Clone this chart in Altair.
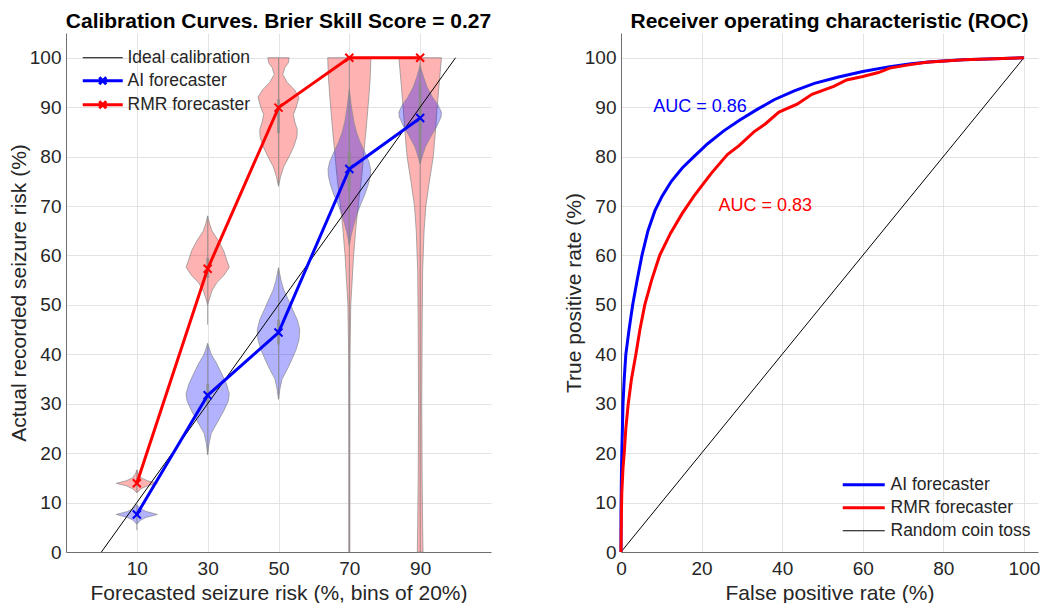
import altair as alt
import pandas as pd

FONT = "Liberation Sans"
BLUE = "#0000ff"
RED = "#ff0000"
TXT = "#262626"

# ---------------- Calibration panel data ----------------
bins = [10, 30, 50, 70, 90]
ai_cal = [7.6, 31.7, 44.4, 77.5, 87.8]
rmr_cal = [13.9, 57.3, 89.9, 100.0, 100.0]
ideal_x = [0, 100]
ideal_y = [0, 100]

# violin outlines: levels (risk %) and half-widths (x units)
ai_v10_y = [5.6, 6.4, 7.0, 7.6, 8.2, 8.8, 9.6]
ai_v10_w = [0, 1.0, 2.6, 5.8, 2.6, 1.0, 0]
ai_v30_y = [19.7, 22, 24, 26.3, 28.5, 30.5, 32, 34, 36, 38.2, 40, 42.2]
ai_v30_w = [0, 0.4, 1.0, 2.8, 4.5, 5.8, 6.1, 5.3, 4.0, 2.5, 1.0, 0]
ai_v50_y = [30.9, 33, 35, 37, 39, 41, 43, 45, 47, 49, 51, 53, 55, 57.5]
ai_v50_w = [0, 0.4, 1.0, 2.5, 3.8, 5.0, 5.8, 6.0, 5.3, 4.0, 2.8, 1.5, 0.7, 0]
ai_v70_y = [62, 64, 66, 68, 70, 72, 74, 76, 77.5, 79, 81, 83, 85, 87, 90, 93.6]
ai_v70_w = [0, 0.5, 1.2, 2.0, 3.0, 4.2, 5.2, 5.9, 6.0, 5.5, 4.3, 3.0, 2.0, 1.3, 0.6, 0]
ai_v90_y = [78.5, 80, 82, 84, 86, 88, 89, 90.5, 92, 94, 96, 98.4]
ai_v90_w = [0, 0.6, 1.5, 3.0, 4.6, 5.9, 6.0, 5.0, 3.5, 2.0, 1.0, 0]

rmr_v10_y = [12.0, 12.8, 13.4, 13.9, 14.4, 15.0, 15.8, 16.6]
rmr_v10_w = [0, 1.2, 3.0, 5.8, 3.0, 1.2, 0.4, 0]
rmr_v30_y = [50, 51.5, 53, 54.5, 56, 57.6, 59, 61, 63, 65, 66.5, 68]
rmr_v30_w = [0, 0.6, 1.3, 2.6, 4.6, 6.1, 5.4, 4.5, 3.0, 1.2, 0.5, 0]
rmr_v50_y = [74, 76, 78, 80, 82, 84, 85.5, 87, 88.5, 90, 92, 93.5, 95, 96.6, 98, 99, 100]
rmr_v50_w = [0, 0.6, 1.5, 3.0, 4.3, 5.2, 5.3, 4.6, 4.2, 5.0, 5.8, 4.5, 2.5, 1.2, 1.8, 2.8, 3.0]
rmr_v70_y = [0, 20, 40, 50, 55, 60, 66, 70, 76, 80, 86, 92, 96, 100]
rmr_v70_w = [0.15, 0.15, 0.2, 0.4, 0.8, 1.2, 1.9, 2.5, 3.5, 4.0, 4.8, 5.5, 5.9, 6.1]
rmr_v90_y = [0, 5, 15, 30, 45, 57, 65, 70, 75, 80, 85, 90, 95, 100]
rmr_v90_w = [0.8, 0.7, 0.55, 0.45, 0.55, 0.7, 1.1, 1.6, 2.6, 3.7, 4.3, 4.8, 5.4, 6.0]

# whiskers and inter-quartile boxes
ai_whisk_lo = [4.4, 19.7, 30.9, 62.0, 78.5]
ai_whisk_hi = [9.6, 42.2, 57.5, 93.6, 98.4]
ai_box_lo = [7.0, 30.0, 42.0, 73.0, 85.0]
ai_box_hi = [8.2, 34.0, 47.0, 81.0, 90.0]
rmr_whisk_lo = [12.0, 46.0, 74.0, 0.0, 0.0]
rmr_whisk_hi = [16.6, 68.0, 100.0, 100.0, 100.0]
rmr_box_lo = [13.4, 55.5, 84.7, 74.0, 80.0]
rmr_box_hi = [14.4, 59.5, 91.6, 80.7, 95.0]

# ---------------- ROC panel data ----------------
ai_fpr = [0, 0, 0.1, 0.2, 0.35, 0.5, 0.8, 1.2, 2.0, 2.9, 4.0, 5.2, 6.7, 8.4, 10.2, 12.5,
          15.2, 18.1, 21.5, 25.5, 29.5, 33.5, 38, 43, 48, 54, 60, 66.7, 72, 77, 85, 100]
ai_tpr = [0, 8, 15, 20, 25, 30, 35, 40, 45, 50, 55, 60, 65, 69, 72, 75,
          77.7, 80.0, 82.6, 85.2, 87.4, 89.4, 91.5, 93.3, 94.8, 96.1, 97.2, 98.2, 98.8, 99.2,
          99.6, 100]
rmr_fpr = [0, 0.1, 0.2, 0.5, 0.8, 1.2, 1.8, 2.6, 3.7, 4.7, 5.9, 7.6, 9.6, 12.3, 15.2, 18.1,
           22.3, 26.4, 29.3, 33, 35.8, 39.2, 43.7, 47.4, 52.8, 56, 60, 63.9, 66.7, 71, 75.8,
           85, 100]
rmr_tpr = [0, 8, 12, 17, 20, 25, 30, 35, 40, 45, 50, 55, 60, 64.5, 68.5, 72,
           76.5, 80.4, 82.2, 85, 86.6, 89, 90.6, 92.6, 94.2, 95.5, 96.2, 97, 97.9, 98.5, 99.1,
           99.6, 100]
coin_fpr = [0, 100]
coin_tpr = [0, 100]
auc_ai = "AUC = 0.86"
auc_rmr = "AUC = 0.83"
auc_ai_pos = (8, 90)
auc_rmr_pos = (24.2, 70)

cal_series = ["Ideal calibration", "AI forecaster", "RMR forecaster"]
cal_widths = [1, 3, 3]
roc_series = ["AI forecaster", "RMR forecaster", "Random coin toss"]
roc_widths = [3, 3, 1]

# ---------------- build tables ----------------
def violin_rows(series, center, ys, ws):
    return [dict(series=series, vid=f"{series}{center}", y=y, lo=center - w, hi=center + w)
            for y, w in zip(ys, ws)]

ai_viol = pd.DataFrame(
    violin_rows("AI", 10, ai_v10_y, ai_v10_w) + violin_rows("AI", 30, ai_v30_y, ai_v30_w)
    + violin_rows("AI", 50, ai_v50_y, ai_v50_w) + violin_rows("AI", 70, ai_v70_y, ai_v70_w)
    + violin_rows("AI", 90, ai_v90_y, ai_v90_w))
rmr_viol = pd.DataFrame(
    violin_rows("RMR", 10, rmr_v10_y, rmr_v10_w) + violin_rows("RMR", 30, rmr_v30_y, rmr_v30_w)
    + violin_rows("RMR", 50, rmr_v50_y, rmr_v50_w) + violin_rows("RMR", 70, rmr_v70_y, rmr_v70_w)
    + violin_rows("RMR", 90, rmr_v90_y, rmr_v90_w))

whisk = pd.DataFrame({
    "x": bins + bins,
    "lo": ai_whisk_lo + rmr_whisk_lo,
    "hi": ai_whisk_hi + rmr_whisk_hi,
    "blo": ai_box_lo + rmr_box_lo,
    "bhi": ai_box_hi + rmr_box_hi,
})

def line_rows(series, width, xs, ys):
    return [dict(series=series, sw=width, x=x, y=y, idx=i) for i, (x, y) in enumerate(zip(xs, ys))]

cal_lines = pd.DataFrame(
    line_rows(cal_series[0], cal_widths[0], ideal_x, ideal_y)
    + line_rows(cal_series[1], cal_widths[1], bins, ai_cal)
    + line_rows(cal_series[2], cal_widths[2], bins, rmr_cal))
ai_pts = pd.DataFrame({"x": bins, "y": ai_cal})
rmr_pts = pd.DataFrame({"x": bins, "y": rmr_cal})

roc_lines = pd.DataFrame(
    line_rows(roc_series[2], roc_widths[2], coin_fpr, coin_tpr)
    + line_rows(roc_series[0], roc_widths[0], ai_fpr, ai_tpr)
    + line_rows(roc_series[1], roc_widths[1], rmr_fpr, rmr_tpr))
auc_df_ai = pd.DataFrame({"x": [auc_ai_pos[0]], "y": [auc_ai_pos[1]], "t": [auc_ai]})
auc_df_rmr = pd.DataFrame({"x": [auc_rmr_pos[0]], "y": [auc_rmr_pos[1]], "t": [auc_rmr]})

# ---------------- axes / scales ----------------
W_L, W_R, H = 425, 417, 519

xs_left = alt.Scale(domain=[-10, 110], nice=False, zero=False)
ys_all = alt.Scale(domain=[0, 105], nice=False, zero=False)
xs_right = alt.Scale(domain=[0, 103.5], nice=False, zero=False)

ax_left_x = alt.Axis(values=bins, title="Forecasted seizure risk (%, bins of 20%)")
ax_left_y = alt.Axis(values=list(range(0, 101, 10)), title="Actual recorded seizure risk (%)")
ax_right_x = alt.Axis(values=list(range(0, 101, 20)), title="False positive rate (%)")
ax_right_y = alt.Axis(values=list(range(0, 101, 10)), title="True positive rate (%)")

def LX(field):
    return alt.X(field, type="quantitative", scale=xs_left, axis=ax_left_x)

def LY(field):
    return alt.Y(field, type="quantitative", scale=ys_all, axis=ax_left_y)

def RX(field):
    return alt.X(field, type="quantitative", scale=xs_right, axis=ax_right_x)

def RY(field):
    return alt.Y(field, type="quantitative", scale=ys_all, axis=ax_right_y)

# ---------------- left panel ----------------
viol_style = dict(orient="horizontal", stroke="#8a8a8a", strokeWidth=0.8, fillOpacity=0.3,
                  strokeOpacity=0.9)
red_v = alt.Chart(rmr_viol).mark_area(fill=RED, **viol_style).encode(
    y=LY("y"), x=LX("lo"), x2="hi:Q", detail="vid:N")
blue_v = alt.Chart(ai_viol).mark_area(fill=BLUE, **viol_style).encode(
    y=LY("y"), x=LX("lo"), x2="hi:Q", detail="vid:N")

whisk_rule = alt.Chart(whisk).mark_rule(color="#8a8a8a", strokeWidth=1, opacity=0.8).encode(
    x=LX("x"), y=LY("lo"), y2="hi:Q")
box_rule = alt.Chart(whisk).mark_rule(color="#8a8a8a", strokeWidth=3, opacity=0.7).encode(
    x=LX("x"), y=LY("blo"), y2="bhi:Q")

sym_left = ("datum.value == 'Ideal calibration' ? 'M-4,0H4' : "
            "'M-4,0H4M-0.7,-0.7L0.7,0.7M-0.7,0.7L0.7,-0.7'")
cal_line = alt.Chart(cal_lines).mark_line().encode(
    x=LX("x"), y=LY("y"), order="idx:Q",
    color=alt.Color("series:N", scale=alt.Scale(domain=cal_series, range=["#000000", BLUE, RED]),
                    legend=alt.Legend(title=None, orient="none", legendX=28, legendY=16,
                                      symbolType=alt.ExprRef(sym_left),
                                      symbolStrokeWidth=alt.ExprRef(
                                          "datum.value == 'Ideal calibration' ? 1 : 3"),
                                      symbolSize=100, labelOffset=16, rowPadding=4,
                                      labelFontSize=17.5, labelColor=TXT, labelFont=FONT,
                                      padding=0)),
    strokeWidth=alt.StrokeWidth("sw:Q", scale=None))

xpath = "M-1,-1L1,1M-1,1L1,-1"
ai_mk = alt.Chart(ai_pts).mark_point(shape=xpath, filled=False, color=BLUE, strokeWidth=2,
                                     size=64, opacity=1).encode(x=LX("x"), y=LY("y"))
rmr_mk = alt.Chart(rmr_pts).mark_point(shape=xpath, filled=False, color=RED, strokeWidth=2,
                                       size=64, opacity=1).encode(x=LX("x"), y=LY("y"))

left = alt.layer(red_v, blue_v, whisk_rule, box_rule, cal_line, ai_mk, rmr_mk).properties(
    width=W_L, height=H,
    title=alt.TitleParams("Calibration Curves. Brier Skill Score = 0.27"))

# ---------------- right panel ----------------
roc_line = alt.Chart(roc_lines).mark_line().encode(
    x=RX("x"), y=RY("y"), order="idx:Q",
    color=alt.Color("series:N", scale=alt.Scale(domain=roc_series, range=[BLUE, RED, "#000000"]),
                    legend=alt.Legend(title=None, orient="none", legendX=234, legendY=443,
                                      symbolType="M-4.2,0H4.2",
                                      symbolStrokeWidth=alt.ExprRef(
                                          "datum.value == 'Random coin toss' ? 1 : 3"),
                                      symbolSize=100, labelOffset=18, rowPadding=4,
                                      labelFontSize=17.5, labelColor=TXT, labelFont=FONT,
                                      padding=0)),
    strokeWidth=alt.StrokeWidth("sw:Q", scale=None))

auc_ai_t = alt.Chart(auc_df_ai).mark_text(align="left", baseline="middle", fontSize=18,
                                          font=FONT, color=BLUE).encode(
    x=RX("x"), y=RY("y"), text="t:N")
auc_rmr_t = alt.Chart(auc_df_rmr).mark_text(align="left", baseline="middle", fontSize=18,
                                            font=FONT, color=RED).encode(
    x=RX("x"), y=RY("y"), text="t:N")

right = alt.layer(roc_line, auc_ai_t, auc_rmr_t).properties(
    width=W_R, height=H,
    title=alt.TitleParams("Receiver operating characteristic (ROC)"))

chart = alt.hconcat(left, right, spacing=71).resolve_scale(
    color="independent", x="independent", y="independent"
).resolve_legend(color="independent").properties(
    padding={"top": 3, "left": 0, "right": 0, "bottom": 0}
).configure_view(
    stroke=None
).configure_axis(
    labelFont=FONT, titleFont=FONT, labelFontSize=19, titleFontSize=21,
    labelColor=TXT, titleColor=TXT, titleFontWeight="normal",
    domainColor="#6e6e6e", domainWidth=1, ticks=False,
    gridColor="#e3e3e3", gridWidth=1, labelPadding=7, labelFlush=False,
    labelOverlap=False
).configure_axisX(titlePadding=4).configure_axisY(titlePadding=0, labelPadding=5).configure_title(
    font=FONT, fontSize=21, fontWeight="bold", color="#000000", offset=1, anchor="middle"
).configure_legend(labelFont=FONT)

chart.save("out.html", embed_options={"renderer": "svg", "actions": False})
